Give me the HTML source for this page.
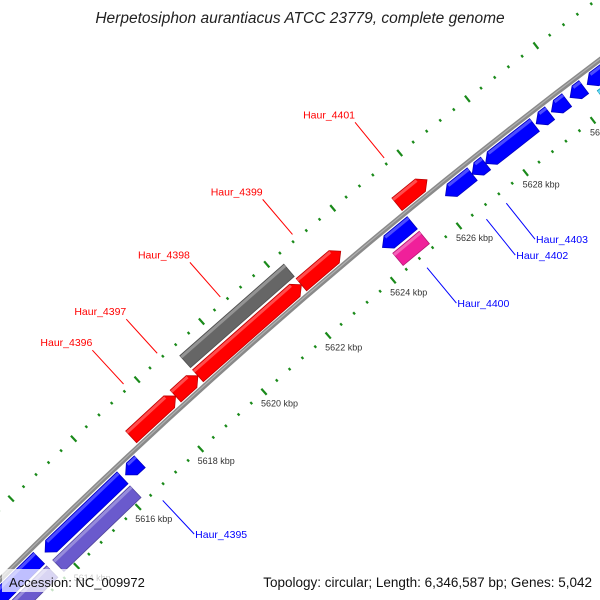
<!DOCTYPE html>
<html><head><meta charset="utf-8">
<style>
html,body{margin:0;padding:0;background:#fff;width:600px;height:600px;overflow:hidden;}
svg{display:block;font-family:"Liberation Sans",sans-serif;overflow:hidden;}
</style></head>
<body>
<svg id="map" width="600" height="600" viewBox="0 0 600 600">
<rect x="0" y="0" width="600" height="600" fill="#fff"/>
<g id="ticks"></g>
<g id="backbone"></g>
<g id="genes"></g>
<g id="labels"></g>
<text x="300" y="23" text-anchor="middle" font-size="15.5" font-style="italic" fill="#222">Herpetosiphon aurantiacus ATCC 23779, complete genome</text>
<rect x="2" y="569" width="140" height="23" fill="#fff" fill-opacity="0.75"/>
<text x="9" y="587" font-size="13" fill="#111">Accession: NC_009972</text>
<rect x="255" y="569" width="345" height="23" fill="#fff" fill-opacity="0.75"/>
<text x="592" y="587" text-anchor="end" font-size="13.5" fill="#111">Topology: circular; Length: 6,346,587 bp; Genes: 5,042</text>
</svg>
<script>
// gene data (kbp)
const geneStart = [5617.0, 5618.4, 5619.1, 5622.3, 5625.2, 5619.1, 5624.3, 5624.4, 5626.2, 5627.0, 5627.4, 5628.9, 5629.35, 5629.9, 5630.4, 5630.5, 5616.3, 5613.7, 5613.7, 5612.0, 5612.0];
const geneEnd   = [5618.4, 5619.1, 5622.3, 5623.5, 5626.1, 5622.3, 5625.2, 5625.2, 5627.0, 5627.4, 5628.85, 5629.3, 5629.8, 5630.3, 5631.5, 5631.6, 5616.75, 5616.2, 5616.2, 5613.5, 5613.5];
const geneLane  = [1, 1, 1, 1, 1, 2, -1, -2, -1, -1, -1, -1, -1, -1, -1, -2, -1, -1, -2, -1, -2];
const geneStrand= [1, 1, 1, 1, 1, 0, -1, 0, -1, -1, -1, -1, -1, -1, -1, 0, -1, -1, 0, -1, 0];
const geneColor = ["#ff0000","#ff0000","#ff0000","#ff0000","#ff0000","#666666","#0000ff","#f0209a","#0000ff","#0000ff","#0000ff","#0000ff","#0000ff","#0000ff","#0000ff","#1ec8f0","#0000ff","#0000ff","#6a5acd","#0000ff","#6a5acd"];
const geneLabel = ["Haur_4396","Haur_4397","Haur_4398","Haur_4399","Haur_4401","","","Haur_4400","Haur_4402","Haur_4403","","","","","","","Haur_4395","","","",""];
const tickStartKbp = 5600;
const tickEndKbp = 5640;
const tickMinorStep = 0.4;
const tickLabelKbp = [5610, 5612, 5614, 5616, 5618, 5620, 5622, 5624, 5626, 5628, 5630, 5632];

const NS = "http://www.w3.org/2000/svg";
const CX = 4086, CY = 4689, R = 5795;
function ang(k){ return (-129.1 + (k - 5626) * 0.425) * Math.PI / 180; }
function pt(k, off){ const a = ang(k); return [CX + (R + off) * Math.cos(a), CY + (R + off) * Math.sin(a)]; }
function mk(tag, attrs, parent){ const e = document.createElementNS(NS, tag); for (const k in attrs) e.setAttribute(k, attrs[k]); parent.appendChild(e); return e; }

// backbone
const bb = document.getElementById("backbone");
const bline = mk("circle", {cx: CX, cy: CY, r: R, fill: "none", stroke: "#8a8a8a", "stroke-width": 5}, bb);


const bhi = mk("circle", {cx: CX, cy: CY, r: R + 0.5, fill: "none", stroke: "#b0b0b0", "stroke-width": 1.2}, bb);



// ticks
const tg = document.getElementById("ticks");
const nT = Math.round((tickEndKbp - tickStartKbp) / tickMinorStep);
for (let i = 0; i <= nT; i++) {
  const k = tickStartKbp + i * tickMinorStep;
  const major = Math.abs(k / 2 - Math.round(k / 2)) < 1e-6;
  const len = major ? 4 : 1.4;
  for (const base of [-44, 50]) {
    const a = pt(k, base - len), b = pt(k, base + len);
    const t = mk("line", {x1: a[0], y1: a[1], x2: b[0], y2: b[1], stroke: "#1a8a1a", "stroke-width": 2.2}, tg);
    
    
  }
}
tickLabelKbp.forEach(k => {
  const p = pt(k, -44);
  const t = mk("text", {x: p[0] - 3, y: p[1] + 15, "font-size": 9, fill: "#333"}, tg);
  t.textContent = k + " kbp";
  
  
});

// genes
const gg = document.getElementById("genes");
const lg = document.getElementById("labels");
const H = 8, AH = 0.2;
function shade(hex, f){
  const n = parseInt(hex.slice(1), 16);
  let r = (n >> 16) & 255, g = (n >> 8) & 255, b = n & 255;
  const m = c => Math.max(0, Math.min(255, Math.round(f > 0 ? c + (255 - c) * f : c * (1 + f))));
  return "rgb(" + m(r) + "," + m(g) + "," + m(b) + ")";
}
for (let i = 0; i < geneStart.length; i++) {
  const s = geneStart[i], e = geneEnd[i], st = geneStrand[i];
  const off = geneLane[i] * (Math.abs(geneLane[i]) === 1 ? 12 : 15.5);
  const ah = Math.min(AH, (e - s) * 0.6);
  let pts;
  if (st === 1) pts = [pt(s, off - H), pt(e - ah, off - H), pt(e, off), pt(e - ah, off + H), pt(s, off + H)];
  else if (st === -1) pts = [pt(s, off), pt(s + ah, off - H), pt(e, off - H), pt(e, off + H), pt(s + ah, off + H)];
  else pts = [pt(s, off - H), pt(e, off - H), pt(e, off + H), pt(s, off + H)];
  const poly = mk("polygon", {points: pts.map(p => p[0].toFixed(1) + "," + p[1].toFixed(1)).join(" "), fill: geneColor[i], stroke: shade(geneColor[i], -0.25), "stroke-width": 0.8}, gg);
  
  
  const hs = st === -1 ? s + ah : s, he = st === 1 ? e - ah : e;
  const hp = [pt(hs, off + H - 0.5), pt(he, off + H - 0.5), pt(he, off + H - 3.5), pt(hs, off + H - 3.5)];
  const hl = mk("polygon", {points: hp.map(p => p[0].toFixed(1) + "," + p[1].toFixed(1)).join(" "), fill: shade(geneColor[i], 0.3)}, gg);
  
  

  if (geneLabel[i]) {
    const mid = (s + e) / 2;
    const sign = geneLane[i] > 0 ? 1 : -1;
    const col = sign > 0 ? "#ff0000" : "#0000ff";
    const a = pt(mid, sign * 56), b = pt(mid, sign * 102);
    const ln = mk("line", {x1: a[0], y1: a[1], x2: b[0], y2: b[1], stroke: col, "stroke-width": 1}, lg);
    
    
    const t = mk("text", sign > 0 ? {x: b[0], y: b[1] - 4, "text-anchor": "end", "font-size": 10.5, fill: col} : {x: b[0] + 1, y: b[1] + 4, "font-size": 10.5, fill: col}, lg);
    t.textContent = geneLabel[i];
    
    
  }
}
</script>
</body></html>
